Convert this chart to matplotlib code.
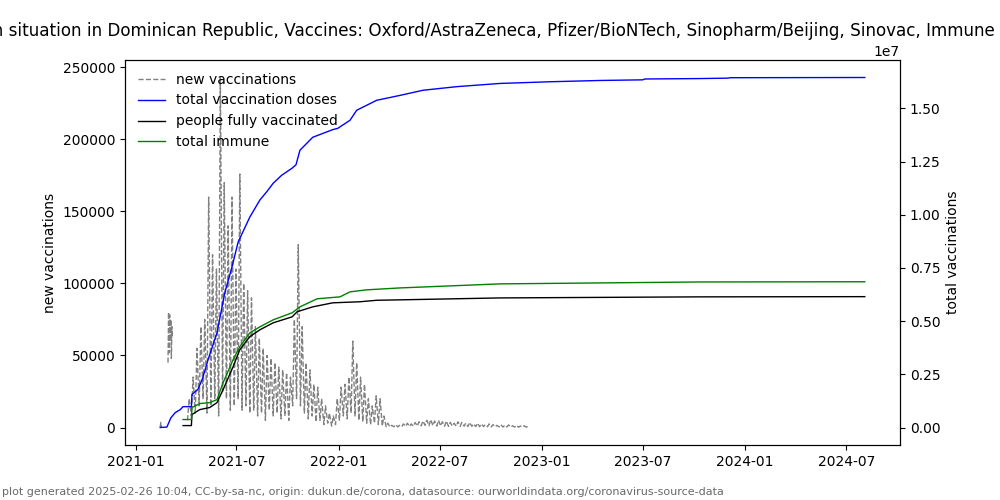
import matplotlib
matplotlib.use("Agg")
import matplotlib.pyplot as plt
import numpy as np
import pandas as pd

# new vaccinations: a few early readings, then weekly lows (sundays) / highs (mid week)
early_dates = ["2021-02-14", "2021-02-15", "2021-02-16", None,
               "2021-02-28", "2021-03-01", "2021-03-02", "2021-03-03", "2021-03-04",
               "2021-03-05", "2021-03-06", "2021-03-07", "2021-03-08", None]
early_vals = [0, 3500, 0, None,
              45000, 80000, 52000, 78000, 60000, 75000, 48000, 70000, 62000, None]

week_start = "2021-04-04"
weekly_low = [5000, 8000, 10000, 15000, 20000, 10000, 15000, 20000, 8000, 25000,
              20000, 12000, 15000, 20000, 12000, 15000, 10000, 12000, 8000, 10000,
              5000, 12000, 8000, 10000, 6000, 8000, 5000, 15000, 20000, 15000,
              10000, 6000, 8000, 4000, 5000, 2000, 3000, 1000, 2000, 5000,
              8000, 6000, 10000, 8000, 5000, 4000, 3000, 2000, 3000, 2000,
              1000, 500, 300, 500, 400, 600, 800, 700, 900, 1000,
              1200, 1500, 1200, 1300, 1000, 1100, 900, 800, 1000, 900,
              800, 900, 700, 800, 600, 500, 600, 500, 400, 500,
              400, 300, 400, 300, 300, 200, 300, 200]
weekly_high = [20000, 35000, 55000, 70000, 75000, 160000, 120000, 110000, 243000, 170000,
               140000, 160000, 110000, 176000, 100000, 95000, 90000, 70000, 62000, 55000,
               50000, 48000, 45000, 42000, 40000, 38000, 35000, 75000, 127000, 70000,
               45000, 40000, 30000, 28000, 20000, 15000, 10000, 8000, 20000, 28000,
               30000, 35000, 60000, 45000, 35000, 30000, 20000, 15000, 22000, 20000,
               8000, 3000, 1500, 2000, 1500, 2500, 3000, 2500, 3500, 4000,
               4500, 5000, 5500, 4500, 5000, 4000, 4500, 3500, 3000, 4000,
               3500, 3000, 3500, 2500, 3000, 2500, 2000, 2500, 2000, 1500,
               2000, 1500, 1800, 1200, 1500, 1000, 1200, 1000]

# cumulative series (right axis), millions
doses_dates = ["2021-02-14", "2021-02-26", "2021-03-05", "2021-03-13", "2021-03-22",
               "2021-03-27", "2021-04-11", "2021-04-12", "2021-04-23", "2021-05-01",
               "2021-05-11", "2021-05-20", "2021-05-27", "2021-06-10", "2021-06-23",
               "2021-07-04", "2021-07-25", "2021-08-12", "2021-08-25", "2021-09-05",
               "2021-09-20", "2021-10-09", "2021-10-16", "2021-10-23", "2021-11-15",
               "2021-12-21", "2021-12-30", "2022-01-21", "2022-02-02", "2022-03-10",
               "2022-04-21", "2022-06-01", "2022-08-01", "2022-10-17", "2023-01-15",
               "2023-04-15", "2023-07-01", "2023-07-05", "2023-10-11", "2023-12-01",
               "2023-12-05", "2024-08-03"]
doses_vals = [0.0, 0.02, 0.45, 0.70, 0.84, 0.98, 0.98, 1.55, 1.80, 2.30,
              3.19, 3.90, 4.45, 6.33, 7.55, 8.72, 9.89, 10.69, 11.10, 11.48,
              11.85, 12.19, 12.35, 13.03, 13.64, 14.00, 14.06, 14.44, 14.91, 15.38,
              15.61, 15.85, 16.02, 16.17, 16.25, 16.31, 16.34, 16.38, 16.40, 16.42,
              16.44, 16.45]

full_dates = ["2021-03-27", "2021-04-11", "2021-04-12", "2021-04-26", "2021-05-14",
              "2021-05-27", "2021-06-07", "2021-06-25", "2021-07-07", "2021-07-25",
              "2021-08-12", "2021-09-05", "2021-10-09", "2021-10-18", "2021-11-15",
              "2021-12-21", "2022-02-08", "2022-03-10", "2022-04-21", "2022-10-17",
              "2023-10-11", "2024-08-03"]
full_vals = [0.09, 0.09, 0.61, 0.84, 0.94, 1.17, 1.78, 2.86, 3.66, 4.27,
             4.59, 4.92, 5.20, 5.44, 5.67, 5.86, 5.91, 5.98, 6.00, 6.09,
             6.14, 6.15]

immune_dates = ["2021-03-27", "2021-04-11", "2021-04-12", "2021-04-26", "2021-05-14",
                "2021-05-27", "2021-06-07", "2021-06-25", "2021-07-07", "2021-07-25",
                "2021-08-12", "2021-09-05", "2021-10-09", "2021-10-23", "2021-11-23",
                "2022-01-03", "2022-01-21", "2022-02-20", "2022-04-21", "2022-10-17",
                "2023-10-11", "2024-08-03"]
immune_vals = [0.375, 0.375, 0.94, 1.125, 1.17, 1.31, 2.11, 3.19, 3.80, 4.45,
               4.73, 5.06, 5.39, 5.67, 6.05, 6.14, 6.375, 6.47, 6.56, 6.75,
               6.84, 6.85]

# build the new vaccination series
lows_at = pd.date_range(week_start, periods=len(weekly_low), freq="7D")
nv_x = [pd.Timestamp(d) if d else pd.NaT for d in early_dates]
nv_y = [np.nan if v is None else v for v in early_vals]
for d, lo, hi in zip(lows_at, weekly_low, weekly_high):
    nv_x += [d, d + pd.Timedelta(days=3)]
    nv_y += [lo, hi]
# NaT -> date next to the previous one, value stays NaN (line break)
for i in range(len(nv_x)):
    if pd.isna(nv_x[i]):
        nv_x[i] = nv_x[i - 1] + pd.Timedelta(hours=12)

fig, ax = plt.subplots(figsize=(10, 5), dpi=100)
ax2 = ax.twinx()

l1, = ax.plot(nv_x, nv_y, color="gray", linestyle="--", linewidth=1, label="new vaccinations")
l2, = ax2.plot(pd.to_datetime(doses_dates), np.array(doses_vals) * 1e6, color="blue",
               linewidth=1, label="total vaccination doses")
l3, = ax2.plot(pd.to_datetime(full_dates), np.array(full_vals) * 1e6, color="black",
               linewidth=1, label="people fully vaccinated")
l4, = ax2.plot(pd.to_datetime(immune_dates), np.array(immune_vals) * 1e6, color="green",
               linewidth=1, label="total immune")

ax.set_ylabel("new vaccinations")
ax2.set_ylabel("total vaccinations")
ax.set_title("Vaccination situation in Dominican Republic, Vaccines: Oxford/AstraZeneca, "
             "Pfizer/BioNTech, Sinopharm/Beijing, Sinovac, Immune estimations %",
             fontsize=12.1)
lines = [l1, l2, l3, l4]
ax.legend(lines, [l.get_label() for l in lines], loc="upper left", frameon=False)

fig.text(0.002, 0.01, "plot generated 2025-02-26 10:04, CC-by-sa-nc, origin: dukun.de/corona, "
         "datasource: ourworldindata.org/coronavirus-source-data", fontsize=8, color="dimgray")

plt.savefig("out.png")
